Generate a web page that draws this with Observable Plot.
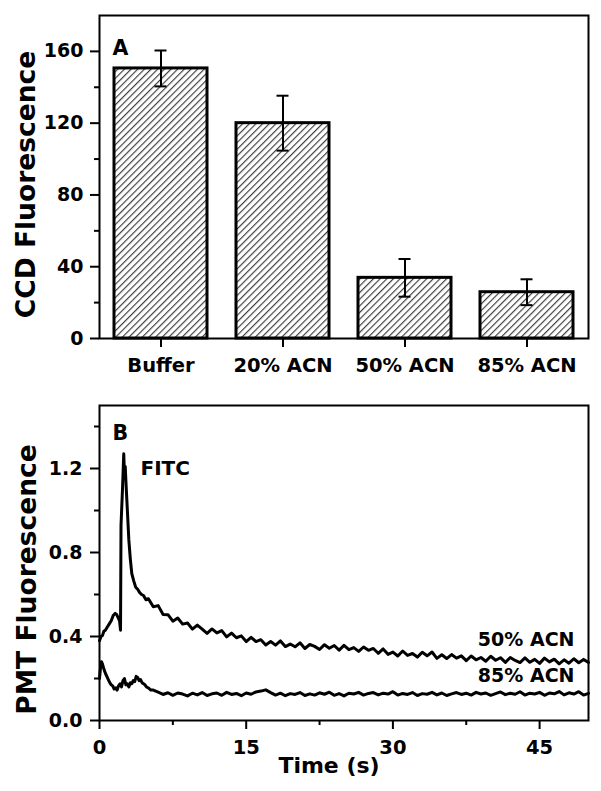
<!DOCTYPE html>
<html>
<head>
<meta charset="utf-8">
<script src="https://cdn.jsdelivr.net/npm/d3@7"></script>
<script src="https://cdn.jsdelivr.net/npm/@observablehq/plot@0.6"></script>
<style>
html, body { margin: 0; padding: 0; background: #fff; }
#chart { width: 601px; }
#chart svg { display: block; }
</style>
</head>
<body>
<div id="chart"></div>
<script>
// ---------- Panel A data ----------
const categories = ["Buffer", "20% ACN", "50% ACN", "85% ACN"];
const ccdMeans = [150.5, 120, 33.8, 25.8];
const ccdErrors = [10, 15.3, 10.5, 7.2];
const ccdTicks = [0, 40, 80, 120, 160];
const ccdMinorTicks = [20, 60, 100, 140];

// ---------- Panel B data ----------
const time50 = [0,0.15,0.3,0.45,0.6,0.8,1.0,1.2,1.4,1.6,1.75,1.9,2.05,2.15,2.2,2.35,2.48,2.55,2.63,2.72,2.85,3.0,3.15,3.3,3.5,3.7,3.9,4.1,4.3,4.5,4.75,
  5,5.5,6,6.5,7,7.5,8,8.5,9,9.5,10,10.5,11,11.5,12,12.5,13,13.5,14,14.5,15,15.5,16,16.5,17,17.5,18,18.5,19,19.5,20,20.5,21,21.5,22,22.5,23,23.5,24,24.5,25,25.5,26,26.5,27,27.5,28,28.5,29,29.5,30,30.5,31,31.5,32,32.5,33,33.5,34,34.5,35,35.5,36,36.5,37,37.5,38,38.5,39,39.5,40,40.5,41,41.5,42,42.5,43,43.5,44,44.5,45,45.5,46,46.5,47,47.5,48,48.5,49,49.5,50];
const pmt50 = [0.38,0.40,0.405,0.425,0.43,0.445,0.46,0.475,0.50,0.51,0.505,0.49,0.475,0.43,0.93,1.10,1.27,1.17,1.21,1.12,1.00,0.86,0.77,0.70,0.665,0.635,0.625,0.61,0.60,0.595,0.575,
  0.58,0.542,0.547,0.505,0.504,0.473,0.488,0.459,0.464,0.435,
  0.454,0.435,0.415,0.436,0.417,0.428,0.398,0.416,0.394,0.403,
  0.376,0.396,0.376,0.385,0.36,0.376,0.359,0.379,0.352,0.364,
  0.351,0.37,0.343,0.362,0.353,0.338,0.361,0.344,0.357,0.335,
  0.358,0.337,0.347,0.329,0.35,0.334,0.343,0.32,0.341,0.315,
  0.326,0.307,0.331,0.31,0.319,0.302,0.325,0.308,0.326,0.296,
  0.313,0.295,0.314,0.297,0.308,0.285,0.307,0.289,0.30,0.282,
  0.306,0.287,0.299,0.277,0.30,0.286,0.276,0.298,0.277,0.291,
  0.272,0.297,0.279,0.292,0.27,0.289,0.273,0.294,0.275,0.291,
  0.276];
const time85 = [0,0.1,0.2,0.3,0.45,0.6,0.75,0.9,1.05,1.2,1.35,1.5,1.65,1.8,1.95,2.1,2.25,2.4,2.55,2.7,2.85,3.0,3.15,3.3,3.45,3.6,3.75,3.9,4.05,4.2,4.35,4.5,4.65,4.8,5.0,5.25,5.5,
  6,6.5,7,7.5,8,8.5,9,9.5,10,10.5,11,11.5,12,12.5,13,13.5,14,14.5,15,15.5,16,16.5,17,17.5,18,18.5,19,19.5,20,20.5,21,21.5,22,22.5,23,23.5,24,24.5,25,25.5,26,26.5,27,27.5,28,28.5,29,29.5,30,30.5,31,31.5,32,32.5,33,33.5,34,34.5,35,35.5,36,36.5,37,37.5,38,38.5,39,39.5,40,40.5,41,41.5,42,42.5,43,43.5,44,44.5,45,45.5,46,46.5,47,47.5,48,48.5,49,49.5,50];
const pmt85 = [0.20,0.25,0.28,0.27,0.245,0.225,0.21,0.195,0.18,0.17,0.165,0.15,0.155,0.145,0.165,0.175,0.16,0.19,0.20,0.17,0.175,0.16,0.18,0.175,0.19,0.185,0.21,0.205,0.19,0.195,0.18,0.175,0.17,0.16,0.155,0.145,0.145,
  0.135,0.124,0.132,0.12,0.131,0.126,0.117,0.13,
  0.122,0.133,0.119,0.127,0.131,0.12,0.134,0.124,0.129,0.118,
  0.131,0.125,0.136,0.14,0.146,0.133,0.121,0.13,0.118,0.128,
  0.124,0.133,0.119,0.127,0.121,0.132,0.125,0.135,0.12,0.128,
  0.117,0.13,0.126,0.134,0.121,0.129,0.133,0.122,0.13,0.126,
  0.137,0.121,0.129,0.124,0.133,0.119,0.128,0.125,0.134,0.122,
  0.131,0.119,0.127,0.133,0.124,0.13,0.121,0.134,0.126,0.131,
  0.12,0.128,0.136,0.123,0.13,0.125,0.137,0.121,0.13,0.126,
  0.134,0.12,0.131,0.127,0.138,0.122,0.132,0.126,0.137,0.121,
  0.129];
const seriesNames = ["50% ACN", "85% ACN"];
const timeTicks = [0, 15, 30, 45];
const timeMinorTicks = [7.5, 22.5, 37.5];
const pmtTicks = [0, 0.4, 0.8, 1.2];
const pmtMinorTicks = [0.2, 0.6, 1.0, 1.4];

const panelLabels = ["A", "B"];
const peakLabel = "FITC";
const yTitles = ["CCD Fluorescence", "PMT Fluorescence"];
const xTitle = "Time (s)";

// ---------- build tables ----------
const barData = categories.map((c, i) => ({cat: c, mean: ccdMeans[i], err: ccdErrors[i]}));
const traceData = [
  ...time50.map((t, i) => ({t, v: pmt50[i], s: seriesNames[0]})),
  ...time85.map((t, i) => ({t, v: pmt85[i], s: seriesNames[1]}))
];

const FONT = "'DejaVu Sans', 'Liberation Sans', sans-serif";
const baseStyle = {fontFamily: FONT, fontWeight: "bold", background: "#fff", color: "#000", overflow: "visible"};

// ---------- Panel A ----------
const topPlot = Plot.plot({
  width: 601, height: 390,
  marginLeft: 99, marginRight: 13, marginTop: 15, marginBottom: 52,
  style: baseStyle,
  x: {domain: categories, paddingInner: 0.24, paddingOuter: 0.12},
  y: {domain: [0, 180]},
  marks: [
    Plot.barY(barData, {x: "cat", y: "mean", fill: "url(#hatch)", stroke: "#000", strokeWidth: 3}),
    Plot.ruleX(barData, {x: "cat", y1: d => d.mean - d.err, y2: d => d.mean + d.err, stroke: "#000", strokeWidth: 2}),
    Plot.tickY(barData, {x: "cat", y: d => d.mean + d.err, insetLeft: 40.5, insetRight: 40.5, stroke: "#000", strokeWidth: 2}),
    Plot.tickY(barData, {x: "cat", y: d => d.mean - d.err, insetLeft: 40.5, insetRight: 40.5, stroke: "#000", strokeWidth: 2}),
    Plot.frame({stroke: "#000", strokeWidth: 2}),
    Plot.axisY({ticks: ccdTicks, tickSize: 9, tickPadding: 7, fontSize: 19, strokeWidth: 2, label: null, fontWeight: "bold"}),
    Plot.axisY({ticks: ccdMinorTicks, tickSize: 5, tickFormat: () => "", strokeWidth: 2, label: null}),
    Plot.axisX({tickSize: 9, tickPadding: 11, fontSize: 19.5, strokeWidth: 2, label: null, fontWeight: "bold"}),
    Plot.text([yTitles[0]], {frameAnchor: "left", dx: -73, dy: 7.5, rotate: -90, textAnchor: "middle", lineAnchor: "middle", fontSize: 26.5, fontWeight: "bold"}),
    Plot.text([panelLabels[0]], {frameAnchor: "top-left", dx: 13, dy: 25, textAnchor: "start", lineAnchor: "top", fontSize: 20.5, fontWeight: "bold"})
  ]
});

// hatch pattern definition
const NS = "http://www.w3.org/2000/svg";
const defs = document.createElementNS(NS, "defs");
const pat = document.createElementNS(NS, "pattern");
pat.setAttribute("id", "hatch");
pat.setAttribute("patternUnits", "userSpaceOnUse");
pat.setAttribute("width", "4.7");
pat.setAttribute("height", "10");
pat.setAttribute("patternTransform", "rotate(45)");
const bg = document.createElementNS(NS, "rect");
bg.setAttribute("width", "4.7"); bg.setAttribute("height", "10"); bg.setAttribute("fill", "#fff");
const ln = document.createElementNS(NS, "line");
ln.setAttribute("x1", "0.6"); ln.setAttribute("x2", "0.6"); ln.setAttribute("y1", "0"); ln.setAttribute("y2", "10");
ln.setAttribute("stroke", "#333"); ln.setAttribute("stroke-width", "1.1");
pat.appendChild(bg); pat.appendChild(ln); defs.appendChild(pat);
topPlot.insertBefore(defs, topPlot.firstChild);

// ---------- Panel B ----------
const bottomPlot = Plot.plot({
  width: 601, height: 401,
  marginLeft: 99, marginRight: 13, marginTop: 15, marginBottom: 71,
  style: baseStyle,
  x: {domain: [0, 50]},
  y: {domain: [0, 1.5]},
  marks: [
    Plot.lineY(traceData, {x: "t", y: "v", z: "s", stroke: "#000", strokeWidth: 3, strokeLinejoin: "round"}),
    Plot.frame({stroke: "#000", strokeWidth: 2}),
    Plot.axisY({ticks: pmtTicks, tickFormat: d3.format(".1f"), tickSize: 9, tickPadding: 8, fontSize: 19, strokeWidth: 2, label: null, fontWeight: "bold"}),
    Plot.axisY({ticks: pmtMinorTicks, tickSize: 5, tickFormat: () => "", strokeWidth: 2, label: null}),
    Plot.axisX({ticks: timeTicks, tickSize: 9, tickPadding: 11, fontSize: 19.5, strokeWidth: 2, label: null, fontWeight: "bold"}),
    Plot.axisX({ticks: timeMinorTicks, tickSize: 5, tickFormat: () => "", strokeWidth: 2, label: null}),
    Plot.text([yTitles[1]], {frameAnchor: "left", dx: -71.5, dy: 16.5, rotate: -90, textAnchor: "middle", lineAnchor: "middle", fontSize: 26.5, fontWeight: "bold"}),
    Plot.text([xTitle], {frameAnchor: "bottom", dx: -15, dy: 37, textAnchor: "middle", lineAnchor: "top", fontSize: 22, fontWeight: "bold"}),
    Plot.text([panelLabels[1]], {frameAnchor: "top-left", dx: 13, dy: 20, textAnchor: "start", lineAnchor: "top", fontSize: 20.5, fontWeight: "bold"}),
    Plot.text([peakLabel], {frameAnchor: "top-left", dx: 41, dy: 55, textAnchor: "start", lineAnchor: "top", fontSize: 20, fontWeight: "bold"}),
    Plot.text([seriesNames[0]], {frameAnchor: "top-right", dx: -14, dy: 227, textAnchor: "end", lineAnchor: "top", fontSize: 19, fontWeight: "bold"}),
    Plot.text([seriesNames[1]], {frameAnchor: "top-right", dx: -14, dy: 263, textAnchor: "end", lineAnchor: "top", fontSize: 19, fontWeight: "bold"})
  ]
});

const root = document.getElementById("chart");
root.appendChild(topPlot);
root.appendChild(bottomPlot);
</script>
</body>
</html>
